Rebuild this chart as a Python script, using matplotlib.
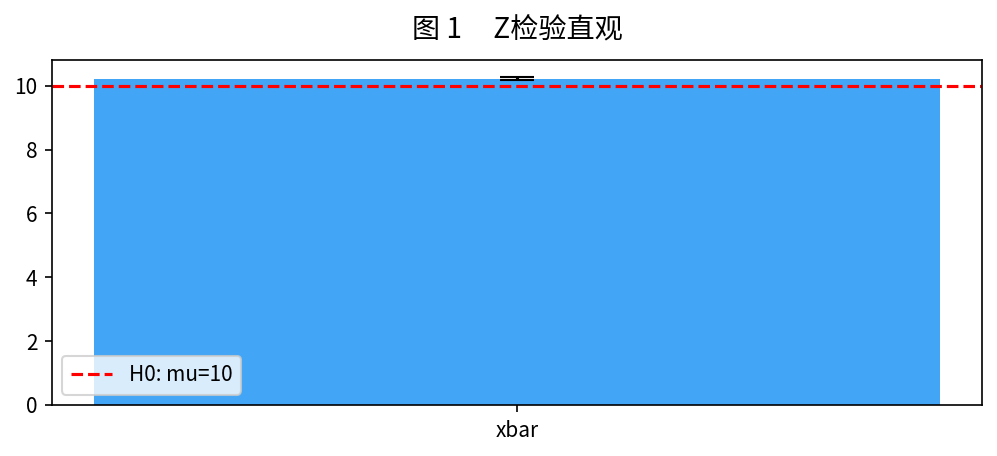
import matplotlib
matplotlib.use("Agg")
import matplotlib.pyplot as plt

plt.rcParams['font.family'] = ['Noto Sans CJK SC', 'DejaVu Sans']
plt.rcParams['axes.unicode_minus'] = False

labels = ['xbar']
means = [10.23]
errs = [0.06]
mu0 = 10

fig, ax = plt.subplots(figsize=(6.647, 3.04), dpi=150)
ax.bar(labels, means, yerr=errs, color='#42A5F5', capsize=8, ecolor='black')
ax.axhline(mu0, color='red', linestyle='--', label='H0: mu=%d' % mu0)
ax.legend(loc='lower left')
ax.set_title('图 1     Z检验直观', fontsize=13.5, pad=11)
fig.subplots_adjust(left=0.052, right=0.985, top=0.868, bottom=0.112)
fig.savefig('out.png', dpi=150)
